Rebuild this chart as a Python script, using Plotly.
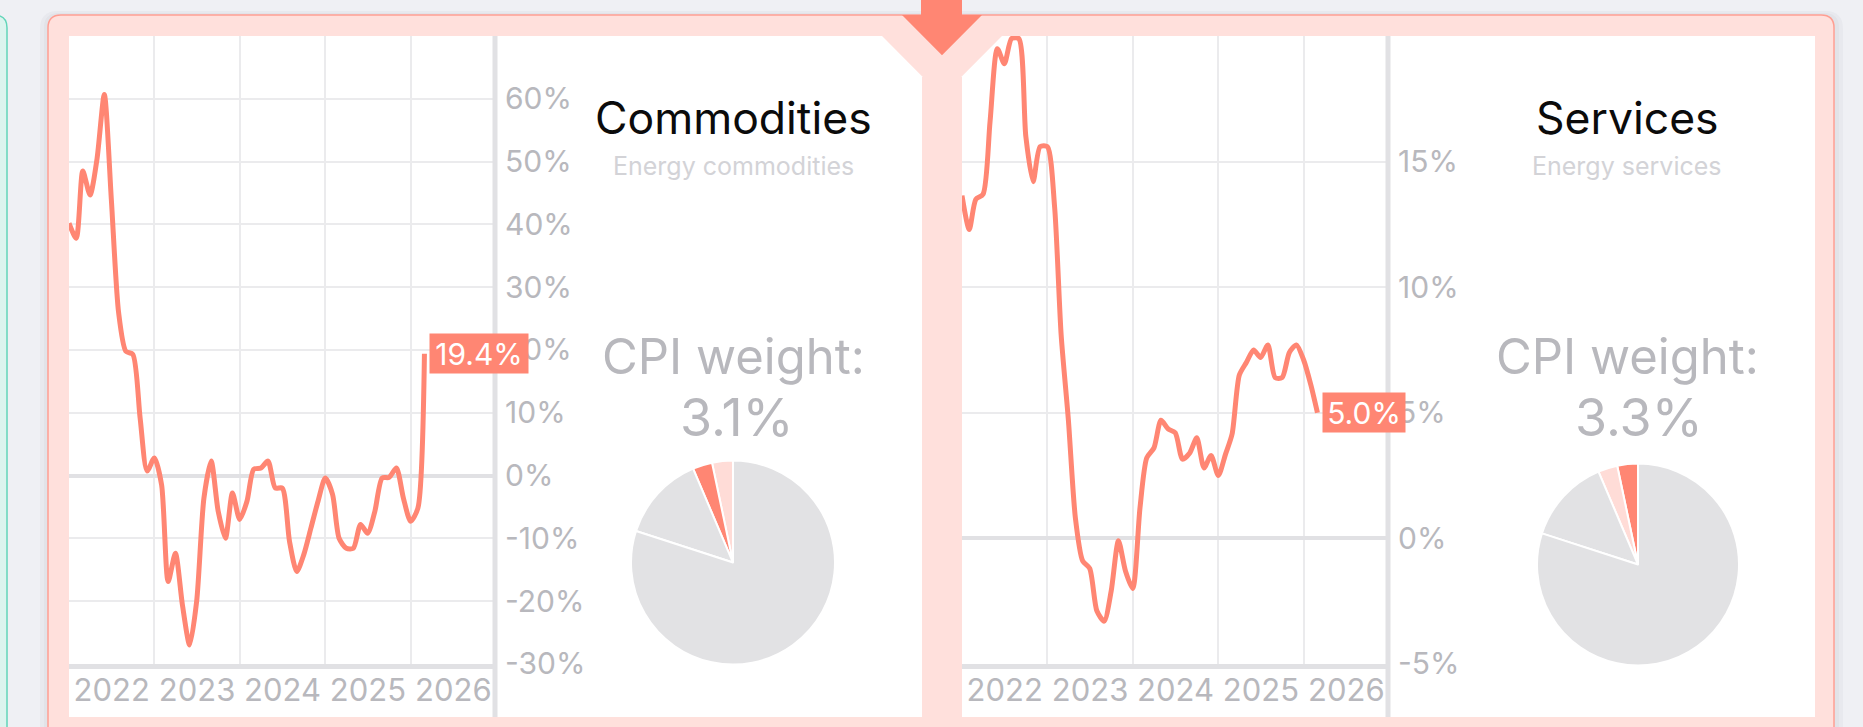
import plotly.graph_objects as go
import pandas as pd

# ---------------- data ----------------
dates = pd.date_range("2022-01-01", periods=51, freq="MS")

commodities_yoy = [40.2, 37.8, 48.5, 44.7, 50.5, 60.7, 44.0, 26.0, 19.8, 19.3,
                   9.2, 0.7, 2.8, -1.5, -16.9, -12.4, -20.6, -27.0, -20.0, -3.6,
                   2.3, -5.7, -10.0, -2.8, -7.0, -4.1, 1.0, 1.2, 2.3, -2.0,
                   -2.0, -10.5, -15.3, -12.6, -8.3, -4.1, -0.4, -3.0, -10.0, -11.6,
                   -11.6, -7.8, -9.2, -5.7, -0.4, -0.3, 1.2, -3.6, -7.3, -5.2,
                   19.4]

services_yoy = [13.65, 12.3, 13.5, 13.7, 16.6, 19.5, 18.9, 19.9, 19.9, 16.0,
                14.2, 15.6, 15.6, 13.2, 8.1, 4.7, 0.8, -0.9, -1.2, -2.9,
                -3.3, -2.1, -0.1, -1.3, -2.0, 1.2, 3.2, 3.6, 4.7, 4.35,
                4.2, 3.15, 3.4, 4.0, 2.8, 3.3, 2.5, 3.35, 4.15, 6.5,
                7.0, 7.5, 7.2, 7.7, 6.4, 6.4, 7.4, 7.7, 7.1, 6.1,
                5.0]

pie_labels = ["Energy services", "Energy commodities", "Food", "Core"]
pie_weights = [3.3, 3.1, 13.6, 80.0]

left_ticks = [-30, -20, -10, 0, 10, 20, 30, 40, 50, 60]
left_ticktext = ["-30%", "-20%", "-10%", "0%", "10%", "20%", "30%", "40%", "50%", "60%"]
right_ticks = [-5, 0, 5, 10, 15]
right_ticktext = ["-5%", "0%", "5%", "10%", "15%"]

panel_titles = ["Commodities", "Services"]
panel_subtitles = ["Energy commodities", "Energy services"]
cpi_weights = ["3.1%", "3.3%"]

# ---------------- style ----------------
W = 1863          # figure width (px)
H_REF = 727       # layout grid used for placing panels
H = 746           # figure height (page viewport height)
FONT = "Inter"
SALMON = "#ff8673"
PINK = "#ffdcd7"
CARD = "#ffe0dc"
CARD_LINE = "#ff9e92"
PAGE = "#eff0f4"
GRID = "#ebebed"
AXIS = "#e1e1e4"
TICK = "#b8b8bd"
SUB = "#d3d3d7"
PIE_GRAY = "#e2e2e4"


def px(x):
    return x / W


def py(y):
    return 1 - y / H_REF


def pt(x, y):
    return f"{px(x):.6f},{py(y):.6f}"


def rrect(x0, y0, x1, y1, r):
    ry = r * H_REF / H
    return (f"M{pt(x0 + r, y0)} L{pt(x1 - r, y0)} Q{pt(x1, y0)} {pt(x1, y0 + ry)} "
            f"L{pt(x1, y1 - ry)} Q{pt(x1, y1)} {pt(x1 - r, y1)} L{pt(x0 + r, y1)} "
            f"Q{pt(x0, y1)} {pt(x0, y1 - ry)} L{pt(x0, y0 + ry)} Q{pt(x0, y0)} {pt(x0 + r, y0)} Z")


def poly(points):
    return "M" + " L".join(pt(x, y) for x, y in points) + " Z"


fig = go.Figure()

# line traces
fig.add_trace(go.Scatter(x=dates, y=commodities_yoy, mode="lines", xaxis="x", yaxis="y",
                         line=dict(color=SALMON, width=5, shape="spline", smoothing=0.7),
                         hoverinfo="skip", showlegend=False))
fig.add_trace(go.Scatter(x=dates, y=services_yoy, mode="lines", xaxis="x2", yaxis="y2",
                         line=dict(color=SALMON, width=5, shape="spline", smoothing=0.7),
                         hoverinfo="skip", showlegend=False))

# pies (first slice starts at 12 o'clock and runs counter-clockwise)
first_angle = pie_weights[0] / sum(pie_weights) * 360
pie_geo = [(733, 561, 102), (1638, 563, 101)]
pie_colors = [[PINK, SALMON, PIE_GRAY, PIE_GRAY], [SALMON, PINK, PIE_GRAY, PIE_GRAY]]
for (cx, cy, r), cols in zip(pie_geo, pie_colors):
    fig.add_trace(go.Pie(labels=pie_labels, values=pie_weights, sort=False,
                         direction="counterclockwise", rotation=-first_angle,
                         marker=dict(colors=cols, line=dict(color="white", width=2)),
                         textinfo="none", hoverinfo="skip", showlegend=False,
                         domain=dict(x=[px(cx - r), px(cx + r)], y=[py(cy + r), py(cy - r)])))


def xaxis_cfg(x0, x1, anchor):
    return dict(domain=[px(x0), px(x1)], anchor=anchor, type="date",
                range=["2022-01-01", "2027-01-01"], dtick="M12", tick0="2022-01-01",
                tickformat="%Y", ticklabelmode="period", showgrid=True, gridcolor=GRID,
                gridwidth=1.5, ticks="", showline=True, linecolor=AXIS, linewidth=5,
                ticklabelstandoff=-5,
                tickfont=dict(family=FONT, size=31, color=TICK),
                minor=dict(ticks="outside", ticklen=56, tickwidth=1.5, tickcolor=GRID,
                           dtick="M12", tick0="2022-01-01", showgrid=False),
                fixedrange=True, zeroline=False)


def yaxis_cfg(rng, vals, text, anchor):
    return dict(domain=[py(662), py(36)], anchor=anchor, range=rng, side="right",
                tickvals=vals, ticktext=text, showgrid=True, gridcolor=GRID, gridwidth=1.5,
                zeroline=True, zerolinecolor=AXIS, zerolinewidth=4, showline=False,
                ticks="", ticklabelstandoff=8,
                tickfont=dict(family=FONT, size=30, color=TICK), fixedrange=True)


shapes = [
    # soft card shadow
    dict(type="path", path=rrect(40, 11, 1843, 760, 18), fillcolor="rgba(110,115,140,0.05)",
         line=dict(width=0), layer="below", xref="paper", yref="paper"),
    dict(type="path", path=rrect(44, 13, 1839, 760, 15), fillcolor="rgba(110,115,140,0.05)",
         line=dict(width=0), layer="below", xref="paper", yref="paper"),
    # left teal card
    dict(type="path", path=rrect(-30, 15, 7, 760, 13), fillcolor="#dcf4ee",
         line=dict(color="#62d5b9", width=1.5), layer="below", xref="paper", yref="paper"),
    # main card
    dict(type="path", path=rrect(48, 15, 1834, 760, 13), fillcolor=CARD,
         line=dict(color=CARD_LINE, width=1.5), layer="below", xref="paper", yref="paper"),
    # white panels
    dict(type="path", path=poly([(69, 36), (882, 36), (922, 76), (922, 715), (69, 715)]),
         fillcolor="white", line=dict(width=0), layer="below", xref="paper", yref="paper"),
    dict(type="path", path=poly([(1002, 36), (1815, 36), (1815, 715), (962, 715), (962, 76)]),
         fillcolor="white", line=dict(width=0), layer="below", xref="paper", yref="paper"),
    # arrow marker
    dict(type="path", path=poly([(921, 0), (962, 0), (962, 15), (982, 15), (942, 55),
                                 (902, 15), (921, 15)]),
         fillcolor=SALMON, line=dict(width=0), layer="below", xref="paper", yref="paper"),
    # thick right axis lines
    dict(type="line", x0=px(495), x1=px(495), y0=py(36), y1=py(715), xref="paper", yref="paper",
         line=dict(color=AXIS, width=5), layer="above"),
    dict(type="line", x0=px(1388), x1=px(1388), y0=py(36), y1=py(715), xref="paper",
         yref="paper", line=dict(color=AXIS, width=5), layer="above"),
]

annotations = []
text_geo = [
    dict(title=(733, 118), sub=(733, 166), cpi=(733, 356), w=(737, 416)),
    dict(title=(1627, 118), sub=(1627, 166), cpi=(1627, 356), w=(1639, 416)),
]
for i, g in enumerate(text_geo):
    annotations += [
        dict(text=panel_titles[i], x=px(g["title"][0]), y=py(g["title"][1]),
             font=dict(family=FONT, size=44.5, color="#0b0b0b")),
        dict(text=panel_subtitles[i], x=px(g["sub"][0]), y=py(g["sub"][1]),
             font=dict(family=FONT, size=25, color=SUB)),
        dict(text="CPI weight:", x=px(g["cpi"][0]), y=py(g["cpi"][1]),
             font=dict(family=FONT, size=49, color=TICK)),
        dict(text=cpi_weights[i], x=px(g["w"][0]), y=py(g["w"][1]),
             font=dict(family=FONT, size=52, color=TICK)),
    ]
for a in annotations:
    a.update(xref="paper", yref="paper", xanchor="center", yanchor="middle", showarrow=False)

# end-value labels: salmon badge with white text
for series, xa, ya in [(commodities_yoy, "x", "y"), (services_yoy, "x2", "y2")]:
    label = f"{series[-1]:.1f}%"
    bw = 16 * len(label) + 12
    annotations.append(dict(x=dates[-1], y=series[-1], xref=xa, yref=ya,
                            text=label, showarrow=False, width=bw, height=33,
                            align="center", valign="middle", borderpad=3,
                            xanchor="left", yanchor="middle", xshift=5,
                            bgcolor=SALMON,
                            font=dict(family=FONT, size=30, color="white")))

fig.update_layout(
    width=W, height=H, autosize=False,
    margin=dict(l=0, r=0, t=0, b=0),
    paper_bgcolor=PAGE, plot_bgcolor="rgba(0,0,0,0)",
    xaxis=xaxis_cfg(69, 496, "y"),
    yaxis=yaxis_cfg([-30, 70], left_ticks, left_ticktext, "x"),
    xaxis2=xaxis_cfg(962, 1389, "y2"),
    yaxis2=yaxis_cfg([-5, 20], right_ticks, right_ticktext, "x2"),
    shapes=shapes, annotations=annotations,
    font=dict(family=FONT),
)

page_css = ("document.documentElement.style.margin='0';"
            "document.body.style.margin='0';document.body.style.overflow='hidden';")
fig.write_html("out.html", config=dict(displayModeBar=False), post_script=page_css)
